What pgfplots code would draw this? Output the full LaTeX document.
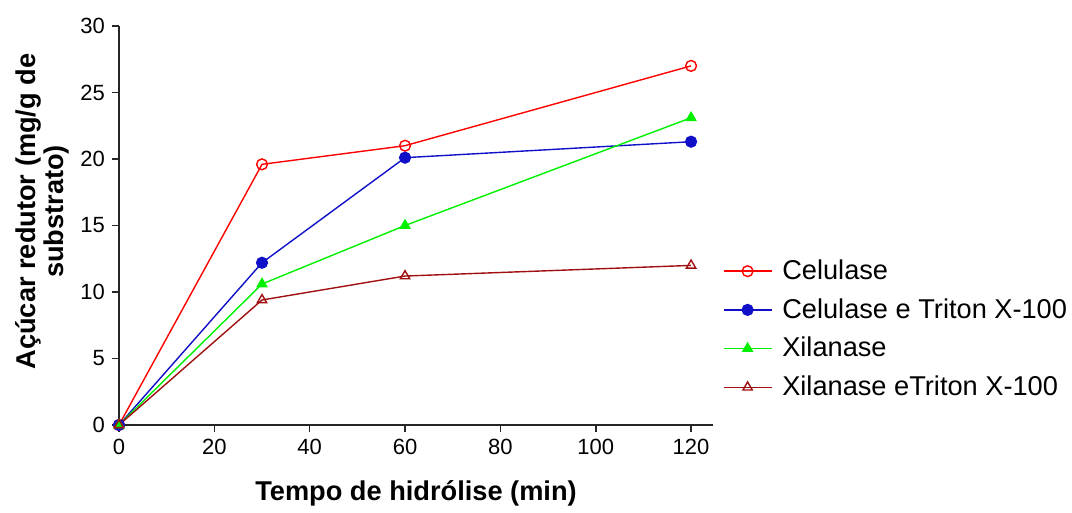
\documentclass[border=0pt]{standalone}
\usepackage{pgfplots}
\pgfplotsset{compat=1.18}
\usepackage{fontspec}
\setmainfont{Liberation Sans}
\definecolor{cel}{HTML}{FF0000}
\definecolor{celtx}{HTML}{1010C8}
\definecolor{xil}{HTML}{00F000}
\definecolor{xiltx}{HTML}{A01010}

\begin{document}
\begin{tikzpicture}
  \begin{axis}[
      width=297pt, height=199.5pt, scale only axis,
      xmin=0, xmax=124.6, ymin=0, ymax=30,
      axis x line*=bottom, axis y line*=left,
      axis line style={line width=1pt, black!85},
      xtick={0,20,...,120}, ytick={0,5,...,30},
      tick align=outside, major tick length=3.5pt,
      tick style={line width=0.8pt, black!85},
      tick label style={font=\fontsize{11}{13}\selectfont},
      /pgf/number format/assume math mode=true,
      xlabel={\textbf{Tempo de hidrólise (min)}},
      xlabel style={font=\fontsize{13.6}{15}\selectfont, yshift=-6pt},
      ylabel={\textbf{Açúcar redutor (mg/g de}\\\textbf{substrato)}},
      ylabel style={font=\fontsize{13.6}{12.5}\selectfont, align=center, yshift=-1pt, xshift=7pt},
      clip=false,
      legend cell align=left,
      legend style={draw=none, fill=none, at={(1.016,0.24)}, anchor=west,
        font=\fontsize{13.6}{15}\selectfont, row sep=4pt, inner sep=0pt,
        /tikz/column 1/.style={column sep=3pt}},
      legend image code/.code={\draw[mark repeat=2,mark phase=2] plot coordinates {(0pt,0pt)(12pt,0pt)(24pt,0pt)};},
      every axis plot/.append style={line width=0.7pt, mark size=2.7pt},
    ]
    \addplot[cel, mark=o, mark options={fill=white}] coordinates {(0,0)(30,19.6)(60,21.0)(120,27.0)};
    \addlegendentry{Celulase}
    \addplot[celtx, mark=*] coordinates {(0,0)(30,12.2)(60,20.1)(120,21.3)};
    \addlegendentry{Celulase e Triton X-100}
    \addplot[xil, mark=triangle*] coordinates {(0,0)(30,10.6)(60,15.0)(120,23.1)};
    \addlegendentry{Xilanase}
    \addplot[xiltx, mark=triangle, mark options={fill=white}] coordinates {(0,0)(30,9.4)(60,11.2)(120,12.0)};
    \addlegendentry{Xilanase eTriton X-100}
    % margins of the original figure
    \path (rel axis cs:0,1) ++(-59.5pt,13pt) (rel axis cs:0,0) ++(476.5pt,-40pt);
  \end{axis}
\end{tikzpicture}
\end{document}
